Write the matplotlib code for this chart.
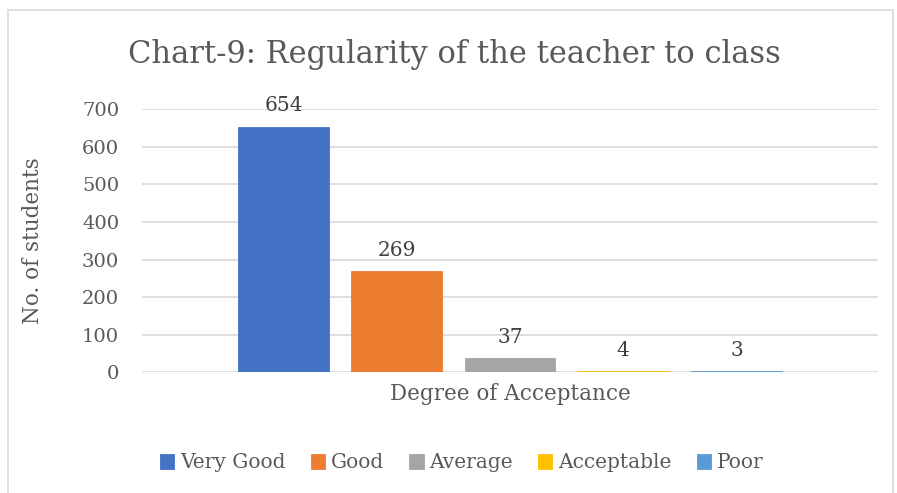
import matplotlib
matplotlib.use("Agg")
import matplotlib.pyplot as plt
from matplotlib.patches import Rectangle

# data
categories = ["Very Good", "Good", "Average", "Acceptable", "Poor"]
students = [654, 269, 37, 4, 3]
colors = ["#4472c4", "#ed7d31", "#a5a5a5", "#ffc000", "#5b9bd5"]
yticks = [0, 100, 200, 300, 400, 500, 600, 700]

txt = "#595959"
plt.rcParams["font.family"] = ["DejaVu Serif"]

fig = plt.figure(figsize=(8.97, 4.93), dpi=100)
fig.patches.append(Rectangle((8/897, -0.02), 885/897, 1-10/493+0.02, transform=fig.transFigure,
                             fill=False, edgecolor="#d9d9d9", linewidth=1.2))

ax = fig.add_axes([142/897, 1-372.3/493, 736/897, (372.3-109.3)/493])
for i in range(len(categories)):
    ax.bar(i, students[i], width=0.8, color=colors[i], edgecolor=colors[i], linewidth=0.6,
           label=categories[i], zorder=3)
    ax.annotate(str(students[i]), (i, students[i]), xytext=(0, 8), textcoords="offset points",
                ha="center", va="bottom", fontsize=14.5, color="#404040")

ax.set_xlim(-1.25, 5.25)
ax.set_ylim(0, 700)
ax.set_yticks(yticks)
ax.yaxis.grid(True, color="#d9d9d9", linewidth=1.2, zorder=0)
ax.set_xticks([])
for s in ax.spines.values():
    s.set_visible(False)
ax.tick_params(axis="y", length=0, labelsize=14, labelcolor=txt, pad=16.5)

ax.set_ylabel("No. of students", fontsize=15.5, color=txt, labelpad=27)
ax.set_xlabel("Degree of Acceptance", fontsize=15.5, color=txt, labelpad=8)

fig.text(0.507, 1-55/493, "Chart-9: Regularity of the teacher to class", ha="center", va="center",
         fontsize=22, color=txt)

fig.legend(loc="center", bbox_to_anchor=(462/897, 1-463/493), ncol=5, frameon=False,
           fontsize=14.5, labelcolor=txt, handlelength=0.7, handleheight=0.7, handletextpad=0.3,
           columnspacing=1.25)

fig.savefig("out.png", dpi=100)
